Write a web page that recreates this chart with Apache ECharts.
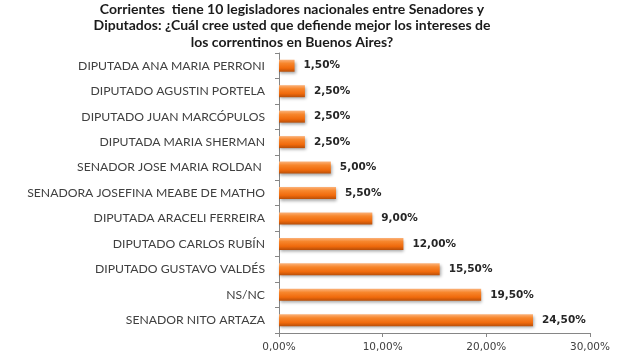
<!DOCTYPE html>
<html><head><meta charset="utf-8">
<script src="https://cdn.jsdelivr.net/npm/echarts@6/dist/echarts.min.js"></script>
<style>html,body{margin:0;padding:0;background:#fff}#c{width:620px;height:360px}</style>
</head><body><div id="c"></div>
<script>
const titleText = 'Corrientes  tiene 10 legisladores nacionales entre Senadores y\nDiputados: ¿Cuál cree usted que defiende mejor los intereses de\nlos correntinos en Buenos Aires?';
const categories = ['SENADOR NITO ARTAZA','NS/NC','DIPUTADO GUSTAVO VALDÉS','DIPUTADO CARLOS RUBÍN','DIPUTADA ARACELI FERREIRA','SENADORA JOSEFINA MEABE DE MATHO','SENADOR JOSE MARIA ROLDAN ','DIPUTADA MARIA SHERMAN','DIPUTADO JUAN MARCÓPULOS','DIPUTADO AGUSTIN PORTELA','DIPUTADA ANA MARIA PERRONI'];
const values = [24.5,19.5,15.5,12,9,5.5,5,2.5,2.5,2.5,1.5];
const xTicks = [0,10,20,30];
const fmt = v => v.toFixed(2).replace('.', ',') + '%';
const chart = echarts.init(document.getElementById('c'), null, {renderer:'canvas'});
chart.setOption({
  animation:false,
  backgroundColor:'#fff',
  title:{text:titleText,left:287,textAlign:'center',top:-4,textStyle:{fontFamily:'Lato',fontWeight:'bold',fontSize:14,lineHeight:16.5,color:'#1a1a1a'}},
  grid:{left:279,right:30,top:53,bottom:27,containLabel:false},
  xAxis:{type:'value',min:xTicks[0],max:xTicks[xTicks.length-1],interval:10,
    axisLine:{show:true,lineStyle:{color:'#868686'}},
    axisTick:{show:true,length:4,lineStyle:{color:'#868686'}},
    splitLine:{show:false},
    axisLabel:{formatter:fmt,fontFamily:'DejaVu Sans',fontSize:10.5,color:'#404040',margin:9}},
  yAxis:{type:'category',data:categories,
    axisLine:{show:true,lineStyle:{color:'#868686'}},
    axisTick:{show:true,length:4,lineStyle:{color:'#868686'}},
    axisLabel:{fontFamily:'Lato',fontSize:12.2,color:'#404040',margin:14}},
  series:[{type:'bar',data:values,barWidth:12,
    itemStyle:{color:new echarts.graphic.LinearGradient(0,0,0,1,[
      {offset:0,color:'#fbb27a'},{offset:0.3,color:'#f7862c'},{offset:0.7,color:'#f06a0c'},{offset:1,color:'#b84e08'}]),
      shadowColor:'rgba(0,0,0,0.35)',shadowBlur:3,shadowOffsetX:1,shadowOffsetY:2},
    label:{show:true,position:'right',distance:9,formatter:p=>fmt(p.value),fontFamily:'DejaVu Sans',fontWeight:'bold',fontSize:10.5,color:'#262626'}}]
});
</script></body></html>
